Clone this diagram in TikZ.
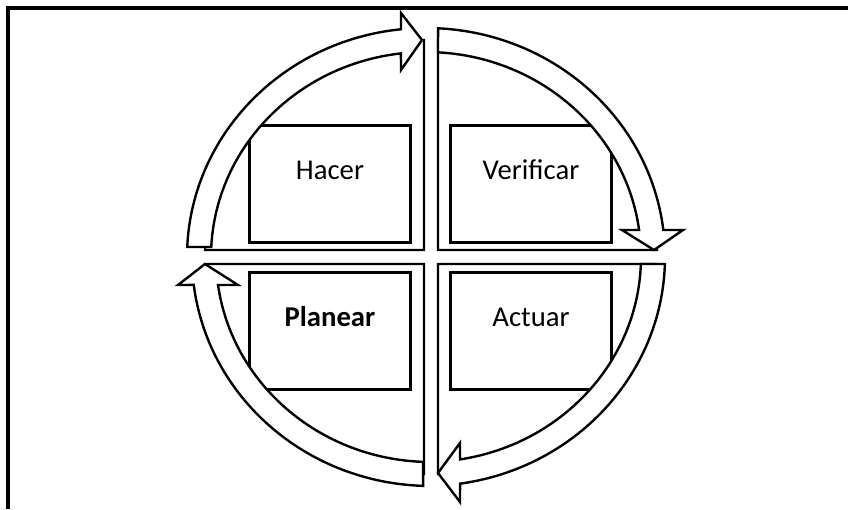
\documentclass[tikz,border=0pt]{standalone}
\usepackage{fontspec}
\setmainfont{Carlito}
\usepackage{tikz}

\begin{document}
\begin{tikzpicture}[x=0.025cm, y=0.025cm, line width=1.7pt, line join=miter,
  quad/.style={draw, fill=white, line width=1.7pt},
  arw/.style={draw, fill=white, line width=1.7pt},
  box/.style={draw, fill=white, rectangle, line width=1.7pt, inner sep=0pt, minimum width=4.025cm, minimum height=2.925cm},
  txt/.style={font=\fontsize{20.4}{24}\selectfont, inner sep=0pt}]
  \useasboundingbox (-431,-252) rectangle (417,257);
  \draw[line width=2.3pt] (-423,-252) -- (-423,249) -- (417,249);

  \draw[quad] (-7,7) -- (-226,7) arc[start angle=180, end angle=90, x radius=219, y radius=210] -- cycle;
  \draw[quad] (7,7) -- (7,217) arc[start angle=90, end angle=0, x radius=219, y radius=210] -- cycle;
  \draw[quad] (7,-7) -- (226,-7) arc[start angle=0, end angle=-90, x radius=219, y radius=210] -- cycle;
  \draw[quad] (-7,-7) -- (-7,-217) arc[start angle=270, end angle=180, x radius=219, y radius=210] -- cycle;

  \node[box] (hacer) at (-101,73) {};
  \node[box] (verificar) at (100,73) {};
  \node[box] (planear) at (-101,-74) {};
  \node[box] (actuar) at (100,-74) {};
  \node[txt, anchor=base] (hacer-t) at ([yshift=-1.375cm]hacer.north) {Hacer};
  \node[txt, anchor=base] (verificar-t) at ([yshift=-1.375cm]verificar.north) {Verificar};
  \node[txt, anchor=base, font=\fontsize{20.4}{24}\selectfont\bfseries] (planear-t) at ([yshift=-1.375cm]planear.north) {Planear};
  \node[txt, anchor=base] (actuar-t) at ([yshift=-1.375cm]actuar.north) {Actuar};

  \begin{scope}[shift={(-5,0)}]
    \draw[arw] (177.5:239 and 229) arc[start angle=177.5, end angle=96, x radius=239, y radius=229]
      -- (-25,244) -- (-4,217) -- (-25,187)
      -- (96.7:215 and 205) arc[start angle=96.7, end angle=177.2, x radius=215, y radius=205] -- cycle;
    \draw[arw] (87.1:239 and 229) arc[start angle=87.1, end angle=6.77, x radius=239, y radius=229]
      -- (257,27) -- (228,7) -- (196,27)
      -- (7.57:215 and 205) arc[start angle=7.57, end angle=86.8, x radius=215, y radius=205] -- cycle;
    \draw[arw] (-1.75:239 and 229) arc[start angle=-1.75, end angle=-81.8, x radius=239, y radius=229]
      -- (34,-245) -- (12,-216) -- (34,-186)
      -- (-80.9:215 and 205) arc[start angle=-80.9, end angle=-1.96, x radius=215, y radius=205] -- cycle;
  \end{scope}
  \draw[arw] (268.1:239 and 229) arc[start angle=268.1, end angle=187, x radius=239, y radius=229]
    -- (-253,-28) -- (-226,-7) -- (-193,-28)
    -- (187.85:215 and 205) arc[start angle=187.85, end angle=267.9, x radius=215, y radius=205] -- cycle;
\end{tikzpicture}
\end{document}
